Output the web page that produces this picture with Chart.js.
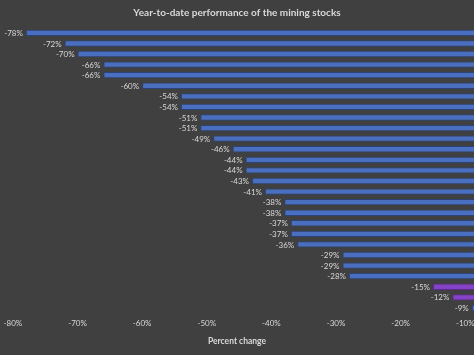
<!DOCTYPE html>
<html>
<head>
<meta charset="utf-8">
<script src="https://cdn.jsdelivr.net/npm/chart.js@4"></script>
<style>
  html, body { margin: 0; padding: 0; background: #404040; overflow: hidden; }
  #wrap { width: 474px; height: 355px; position: relative; }
</style>
</head>
<body>
<div id="wrap"><canvas id="c"></canvas></div>
<script>
// Data (year-to-date % change)
const stocks = ["Stock 1","Stock 2","Stock 3","Stock 4","Stock 5","Stock 6","Stock 7","Stock 8","Stock 9",
  "Stock 10","Stock 11","Stock 12","Stock 13","Stock 14","Stock 15","Stock 16","Stock 17","Stock 18",
  "Stock 19","Stock 20","Stock 21","Stock 22","Stock 23","Stock 24","Stock 25","Stock 26","Stock 27"];
const changes = [-78,-72,-70,-66,-66,-60,-54,-54,-51,-51,-49,-46,-44,-44,-43,-41,-38,-38,-37,-37,-36,-29,-29,-28,-15,-12,-9];
const highlighted = [false,false,false,false,false,false,false,false,false,false,false,false,false,false,false,false,false,false,false,false,false,false,false,false,true,true,false];
const xTicks = [-80,-70,-60,-50,-40,-30,-20,-10];

const TEXT = '#d9d9d9';
const FONT = 'Lato, "Liberation Sans", sans-serif';

const labelPlugin = {
  id: 'barLabels',
  afterDatasetsDraw(chart) {
    const ctx = chart.ctx;
    const meta = chart.getDatasetMeta(0);
    ctx.save();
    ctx.font = '8px ' + FONT;
    ctx.fillStyle = TEXT;
    ctx.textAlign = 'right';
    ctx.textBaseline = 'middle';
    meta.data.forEach((bar, i) => {
      ctx.fillText(changes[i] + '%', bar.x - 3, bar.y + 0.5);
    });
    ctx.restore();
  }
};

new Chart(document.getElementById('c'), {
  type: 'bar',
  data: {
    labels: stocks,
    datasets: [{
      data: changes,
      backgroundColor: highlighted.map(h => h ? '#8442c8' : '#4a6fc0'),
      borderColor: highlighted.map(h => h ? '#5e2a8e' : '#2a4478'),
      borderWidth: 1,
      borderSkipped: false,
      categoryPercentage: 1,
      barPercentage: 0.6
    }]
  },
  options: {
    indexAxis: 'y',
    responsive: true,
    maintainAspectRatio: false,
    animation: false,
    layout: { padding: { left: 0, right: 0, top: 0, bottom: 9 } },
    plugins: {
      legend: { display: false },
      tooltip: { enabled: false },
      title: {
        display: true,
        text: 'Year-to-date performance of the mining stocks',
        color: TEXT,
        font: { family: FONT, size: 10, weight: 'bold', lineHeight: 1.2 },
        padding: { top: 7, bottom: 8.6 }
      }
    },
    scales: {
      x: {
        type: 'linear',
        min: -82,
        max: -8.65,
        grid: { display: false, drawTicks: false },
        border: { display: false },
        afterBuildTicks(scale) { scale.ticks = xTicks.map(v => ({ value: v })); },
        afterFit(scale) { scale.paddingLeft = 0; scale.paddingRight = 0; },
        ticks: {
          color: TEXT,
          font: { family: FONT, size: 8, lineHeight: 1.2 },
          padding: 5,
          callback: v => v + '%'
        },
        title: {
          display: true,
          text: 'Percent change',
          color: TEXT,
          font: { family: FONT, size: 8.5, weight: 'bold', lineHeight: 1.2 },
          padding: { top: 3, bottom: 0 }
        }
      },
      y: {
        display: false
      }
    }
  },
  plugins: [labelPlugin]
});
</script>
</body>
</html>
